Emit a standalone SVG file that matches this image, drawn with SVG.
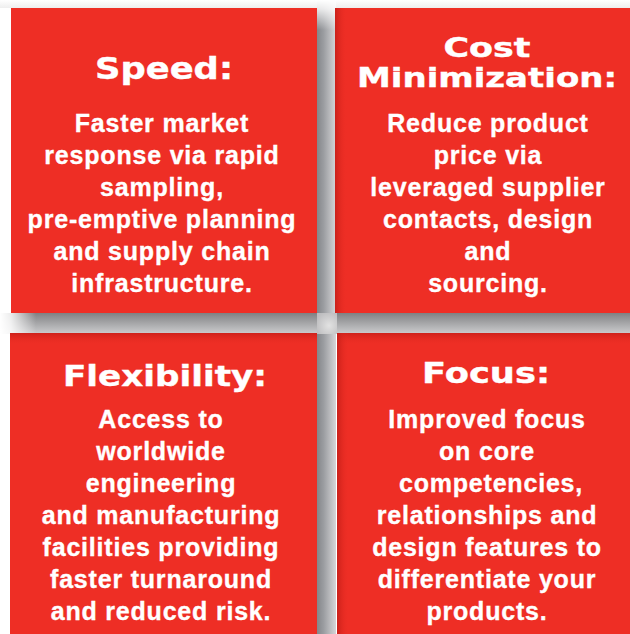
<svg xmlns="http://www.w3.org/2000/svg" width="630" height="634" viewBox="0 0 630 634">
<defs>
  <linearGradient id="gv" x1="0" y1="0" x2="1" y2="0">
    <stop offset="0" stop-color="#84868a"/>
    <stop offset="0.35" stop-color="#9b9da1"/>
    <stop offset="1" stop-color="#d6d6d8"/>
  </linearGradient>
  <linearGradient id="gh" x1="0" y1="0" x2="0" y2="1">
    <stop offset="0" stop-color="#7f8082"/>
    <stop offset="0.2" stop-color="#909193"/>
    <stop offset="1" stop-color="#cdcdcf"/>
  </linearGradient>
  <radialGradient id="gx" cx="0.6" cy="0.6" r="0.7">
    <stop offset="0" stop-color="#e2e2e2"/>
    <stop offset="1" stop-color="#bdbdbf"/>
  </radialGradient>
  <linearGradient id="fadeL" x1="0" y1="0" x2="1" y2="0">
    <stop offset="0" stop-color="#ffffff" stop-opacity="1"/>
    <stop offset="0.3" stop-color="#ffffff" stop-opacity="0.85"/>
    <stop offset="1" stop-color="#ffffff" stop-opacity="0"/>
  </linearGradient>
  <linearGradient id="fadeT" x1="0" y1="0" x2="0" y2="1">
    <stop offset="0" stop-color="#ffffff" stop-opacity="1"/>
    <stop offset="0.3" stop-color="#ffffff" stop-opacity="0.8"/>
    <stop offset="1" stop-color="#ffffff" stop-opacity="0"/>
  </linearGradient>
  <linearGradient id="topband" x1="0" y1="0" x2="0" y2="1">
    <stop offset="0" stop-color="#ffffff"/>
    <stop offset="1" stop-color="#eeeeee"/>
  </linearGradient>
  <linearGradient id="shL" x1="0" y1="0" x2="1" y2="0">
    <stop offset="0" stop-color="#c01d17" stop-opacity="0.8"/>
    <stop offset="1" stop-color="#ee2e25" stop-opacity="0"/>
  </linearGradient>
  <linearGradient id="shT" x1="0" y1="0" x2="0" y2="1">
    <stop offset="0" stop-color="#c01d17" stop-opacity="0.7"/>
    <stop offset="1" stop-color="#ee2e25" stop-opacity="0"/>
  </linearGradient>
</defs>
<style>
  .box { fill: #ee2e25; }
  .title { font-family: "DejaVu Sans", "Verdana", sans-serif; font-weight: bold; fill: #ffffff; stroke: #ffffff; stroke-width: 0.4px; text-anchor: middle; }
  .body { font-family: "Liberation Sans", Arial, sans-serif; font-weight: bold; font-size: 25px; letter-spacing: 0.8px; fill: #ffffff; stroke: #ffffff; stroke-width: 0.35px; text-anchor: middle; }
</style>

<rect x="0" y="0" width="630" height="634" fill="#ffffff"/>

<g id="gutters">
  <rect x="0" y="0" width="630" height="8" fill="url(#topband)"/>
  <rect x="317" y="0" width="19" height="634" fill="url(#gv)"/>
  <rect x="0" y="313" width="630" height="21" fill="url(#gh)"/>
  <rect x="317" y="313" width="20" height="21" fill="url(#gx)"/>
  <rect x="0" y="313" width="36" height="21" fill="url(#fadeL)"/>
  <rect x="317" y="0" width="19" height="30" fill="url(#fadeT)"/>
</g>

<g id="speed">
  <rect class="box" x="11" y="8" width="306" height="305"/>
  <text class="title" x="164" y="79" font-size="31" textLength="138" lengthAdjust="spacingAndGlyphs">Speed:</text>
  <text class="body" x="162" y="132">Faster market</text>
  <text class="body" x="162" y="164">response via rapid</text>
  <text class="body" x="162" y="196">sampling,</text>
  <text class="body" x="162" y="228">pre-emptive planning</text>
  <text class="body" x="162" y="260">and supply chain</text>
  <text class="body" x="162" y="292">infrastructure.</text>
</g>

<g id="cost">
  <rect class="box" x="335" y="8" width="295" height="305"/>
  <rect x="335" y="8" width="12" height="305" fill="url(#shL)"/>
  <text class="title" x="487" y="57" font-size="27" textLength="87" lengthAdjust="spacingAndGlyphs">Cost</text>
  <text class="title" x="487" y="87" font-size="27" textLength="260" lengthAdjust="spacingAndGlyphs">Minimization:</text>
  <text class="body" x="488" y="132">Reduce product</text>
  <text class="body" x="488" y="164">price via</text>
  <text class="body" x="488" y="196">leveraged supplier</text>
  <text class="body" x="488" y="228">contacts, design</text>
  <text class="body" x="488" y="260">and</text>
  <text class="body" x="488" y="292">sourcing.</text>
</g>

<g id="flexibility">
  <rect class="box" x="10" y="333" width="307" height="301"/>
  <rect x="10" y="333" width="307" height="12" fill="url(#shT)"/>
  <text class="title" x="165" y="386" font-size="29" textLength="204" lengthAdjust="spacingAndGlyphs">Flexibility:</text>
  <text class="body" x="161" y="428">Access to</text>
  <text class="body" x="161" y="460">worldwide</text>
  <text class="body" x="161" y="492">engineering</text>
  <text class="body" x="161" y="524">and manufacturing</text>
  <text class="body" x="161" y="556">facilities providing</text>
  <text class="body" x="161" y="588">faster turnaround</text>
  <text class="body" x="161" y="620">and reduced risk.</text>
</g>

<g id="focus">
  <rect class="box" x="337" y="333" width="293" height="301"/>
  <rect x="337" y="333" width="293" height="12" fill="url(#shT)"/>
  <rect x="337" y="333" width="12" height="301" fill="url(#shL)"/>
  <text class="title" x="486" y="383" font-size="29" textLength="128" lengthAdjust="spacingAndGlyphs">Focus:</text>
  <text class="body" x="487" y="428">Improved focus</text>
  <text class="body" x="487" y="460">on core</text>
  <text class="body" x="491" y="492">competencies,</text>
  <text class="body" x="487" y="524">relationships and</text>
  <text class="body" x="487" y="556">design features to</text>
  <text class="body" x="487" y="588">differentiate your</text>
  <text class="body" x="487" y="620">products.</text>
</g>
</svg>
